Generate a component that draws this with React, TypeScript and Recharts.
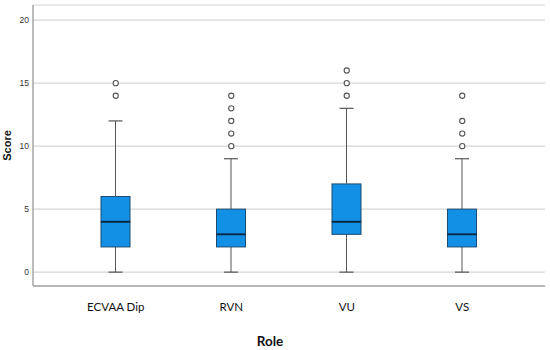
import { ComposedChart, Bar, Scatter, XAxis, YAxis, CartesianGrid } from 'recharts'

const roles = ['ECVAA Dip', 'RVN', 'VU', 'VS']
const mins = [0, 0, 0, 0]
const q1s = [2, 2, 3, 2]
const medians = [4, 3, 4, 3]
const q3s = [6, 5, 7, 5]
const maxes = [12, 9, 13, 9]
const outliers = [[14, 15], [10, 11, 12, 13, 14], [14, 15, 16], [10, 11, 12, 14]]
const yTicks = [0, 5, 10, 15, 20]

const boxData = roles.map((name, i) => ({
  name,
  base: mins[i],
  lowWhisker: q1s[i] - mins[i],
  lowBox: medians[i] - q1s[i],
  highBox: q3s[i] - medians[i],
  highWhisker: maxes[i] - q3s[i],
}))

const outlierData = roles.flatMap((name, i) => outliers[i].map((value) => ({ name, value })))

const BOX_FILL = '#1190e6'
const BOX_EDGE = '#1d4a70'
const WHISKER = '#555555'
const CAP = 14

function LowWhisker(props: any) {
  const { x, y, width, height } = props
  const cx = x + width / 2
  return (
    <g>
      <line x1={cx} x2={cx} y1={y} y2={y + height} stroke={WHISKER} strokeWidth={1} />
      <line x1={cx - CAP / 2} x2={cx + CAP / 2} y1={y + height} y2={y + height} stroke={WHISKER} strokeWidth={1.2} />
    </g>
  )
}

function HighWhisker(props: any) {
  const { x, y, width, height } = props
  const cx = x + width / 2
  return (
    <g>
      <line x1={cx} x2={cx} y1={y} y2={y + height} stroke={WHISKER} strokeWidth={1} />
      <line x1={cx - CAP / 2} x2={cx + CAP / 2} y1={y} y2={y} stroke={WHISKER} strokeWidth={1.2} />
    </g>
  )
}

function LowBox(props: any) {
  const { x, y, width, height } = props
  return <rect x={x} y={y} width={width} height={height} fill={BOX_FILL} stroke={BOX_EDGE} strokeWidth={1} />
}

function HighBox(props: any) {
  const { x, y, width, height } = props
  return (
    <g>
      <rect x={x} y={y} width={width} height={height} fill={BOX_FILL} stroke={BOX_EDGE} strokeWidth={1} />
      {/* median */}
      <line x1={x} x2={x + width} y1={y + height} y2={y + height} stroke="#0b2440" strokeWidth={1.8} />
    </g>
  )
}

function Outlier(props: any) {
  const { cx, cy } = props
  return <circle cx={cx} cy={cy} r={2.6} fill="#ffffff" stroke="#555555" strokeWidth={1.1} />
}

function ScoreLabel(props: any) {
  const { viewBox } = props
  const cy = viewBox.y + viewBox.height / 2
  return (
    <text
      x={11}
      y={cy}
      transform={`rotate(-90, 11, ${cy})`}
      textAnchor="middle"
      fontFamily="Liberation Sans, Arial, sans-serif"
      fontWeight="bold"
      fontSize={11}
      fill="#111"
    >
      Score
    </text>
  )
}

function RoleLabel(props: any) {
  const { viewBox } = props
  return (
    <text
      x={viewBox.x + viewBox.width / 2 - 19}
      y={viewBox.y + viewBox.height - 4}
      textAnchor="middle"
      fontFamily="Lato, sans-serif"
      fontWeight="bold"
      fontSize={13.5}
      fill="#111"
    >
      Role
    </text>
  )
}

export default function App() {
  return (
    <div style={{ position: 'absolute', left: 0, top: 0, background: '#fff' }}>
      <ComposedChart
        width={550}
        height={350}
        data={boxData}
        margin={{ top: 5, right: 5, bottom: 0, left: 0 }}
      >
        <CartesianGrid vertical={false} stroke="#d6d6d6" strokeWidth={1.2} />
        <XAxis
          dataKey="name"
          type="category"
          allowDuplicatedCategory={false}
          height={64}
          padding={{ left: 25, right: 25 }}
          tickLine={false}
          tickSize={0}
          tickMargin={17}
          axisLine={{ stroke: '#a6a6a6', strokeWidth: 1.5 }}
          tick={{ fontFamily: 'Lato, sans-serif', fontSize: 11.5, fill: '#111' }}
          label={<RoleLabel />}
        />
        <YAxis
          type="number"
          width={33}
          domain={[-1.1, 21.2]}
          ticks={yTicks}
          allowDataOverflow
          tickLine={false}
          tickSize={0}
          tickMargin={4}
          axisLine={{ stroke: '#a6a6a6', strokeWidth: 1.5 }}
          tick={{ fontFamily: 'Liberation Sans, Arial, sans-serif', fontSize: 8.5, fill: '#333' }}
          label={<ScoreLabel />}
        />
        <Bar dataKey="base" stackId="box" fill="transparent" barSize={29} isAnimationActive={false} />
        <Bar dataKey="lowWhisker" stackId="box" barSize={29} shape={<LowWhisker />} isAnimationActive={false} />
        <Bar dataKey="lowBox" stackId="box" barSize={29} shape={<LowBox />} isAnimationActive={false} />
        <Bar dataKey="highBox" stackId="box" barSize={29} shape={<HighBox />} isAnimationActive={false} />
        <Bar dataKey="highWhisker" stackId="box" barSize={29} shape={<HighWhisker />} isAnimationActive={false} />
        <Scatter data={outlierData} dataKey="value" shape={<Outlier />} isAnimationActive={false} />
      </ComposedChart>
    </div>
  )
}
